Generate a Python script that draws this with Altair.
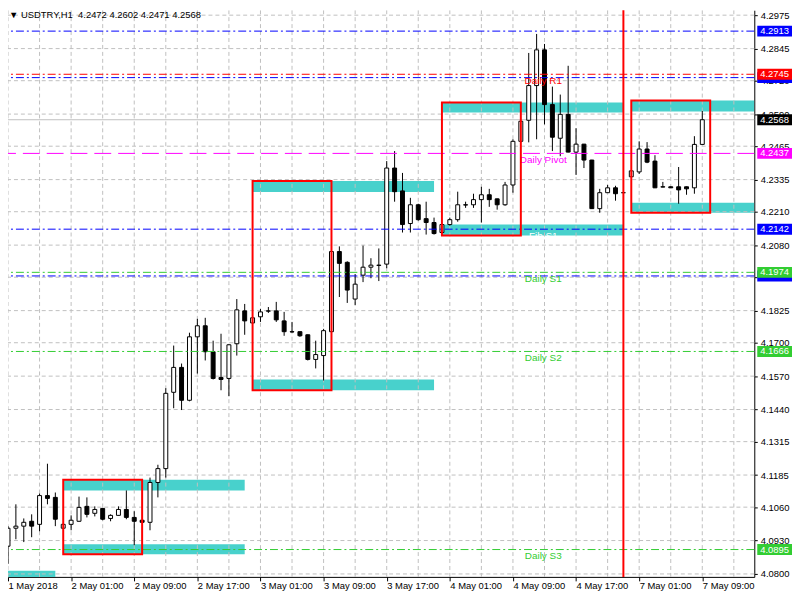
import altair as alt
import pandas as pd

# ---------------- data ----------------
bar_index = list(range(89))
opens = [4.0908, 4.0978, 4.0986, 4.1005, 4.0993, 4.1105, 4.1098, 4.0978, 4.0993, 4.1005,
         4.1063, 4.1036, 4.1055, 4.1016, 4.1028, 4.1051, 4.1020, 4.1009, 4.1001, 4.1156,
         4.1210, 4.1507, 4.1604, 4.1476, 4.1723, 4.1766, 4.1665, 4.1565, 4.1561, 4.1696,
         4.1824, 4.1777, 4.1801, 4.1824, 4.1824, 4.1785, 4.1743, 4.1743, 4.1731, 4.1635,
         4.1650, 4.1743, 4.2055, 4.2013, 4.1870, 4.1963, 4.1994, 4.2002, 4.2006, 4.2380,
         4.2291, 4.2164, 4.2237, 4.2183, 4.2168, 4.2129, 4.2160, 4.2179, 4.2237, 4.2237,
         4.2257, 4.2276, 4.2260, 4.2237, 4.2314, 4.2484, 4.2566, 4.2701, 4.2840, 4.2627,
         4.2496, 4.2589, 4.2442, 4.2473, 4.2411, 4.2222, 4.2284, 4.2303, 4.2284, 4.2346,
         4.2365, 4.2454, 4.2407, 4.2307, 4.2307, 4.2307, 4.2307, 4.2303, 4.2472]
highs = [4.0986, 4.1071, 4.1016, 4.1032, 4.1113, 4.1229, 4.1117, 4.0997, 4.1028, 4.1101,
         4.1098, 4.1063, 4.1057, 4.1032, 4.1063, 4.1125, 4.1044, 4.1010, 4.1175, 4.1225,
         4.1523, 4.1689, 4.1619, 4.1739, 4.1793, 4.1797, 4.1708, 4.1735, 4.1694, 4.1870,
         4.1851, 4.1801, 4.1832, 4.1839, 4.1859, 4.1820, 4.1781, 4.1744, 4.1732, 4.1708,
         4.1754, 4.2063, 4.2075, 4.2017, 4.1967, 4.2078, 4.2029, 4.2067, 4.2407, 4.2446,
         4.2361, 4.2264, 4.2241, 4.2249, 4.2187, 4.2161, 4.2187, 4.2288, 4.2249, 4.2280,
         4.2307, 4.2299, 4.2261, 4.2326, 4.2492, 4.2563, 4.2828, 4.2902, 4.2863, 4.2697,
         4.2666, 4.2778, 4.2535, 4.2474, 4.2412, 4.2299, 4.2314, 4.2311, 4.2286, 4.2370,
         4.2484, 4.2481, 4.2430, 4.2326, 4.2308, 4.2384, 4.2308, 4.2504, 4.2602]
lows = [4.0839, 4.0935, 4.0924, 4.0943, 4.0966, 4.1071, 4.0986, 4.0974, 4.0970, 4.1003,
        4.1020, 4.1024, 4.1009, 4.1005, 4.1027, 4.1013, 4.0912, 4.1000, 4.0970, 4.1098,
        4.1175, 4.1445, 4.1438, 4.1472, 4.1580, 4.1631, 4.1557, 4.1515, 4.1492, 4.1650,
        4.1731, 4.1775, 4.1781, 4.1816, 4.1781, 4.1727, 4.1739, 4.1723, 4.1631, 4.1600,
        4.1553, 4.1739, 4.1878, 4.1855, 4.1847, 4.1936, 4.1951, 4.1940, 4.1990, 4.2249,
        4.2129, 4.2129, 4.2175, 4.2121, 4.2121, 4.2128, 4.2156, 4.2171, 4.2225, 4.2225,
        4.2168, 4.2229, 4.2218, 4.2233, 4.2284, 4.2480, 4.2480, 4.2492, 4.2550, 4.2446,
        4.2426, 4.2441, 4.2353, 4.2380, 4.2221, 4.2206, 4.2283, 4.2253, 4.2283, 4.2345,
        4.2357, 4.2399, 4.2302, 4.2305, 4.2302, 4.2241, 4.2276, 4.2280, 4.2471]
closes = [4.0978, 4.0986, 4.1001, 4.0986, 4.1105, 4.1094, 4.1013, 4.0993, 4.1009, 4.1059,
          4.1032, 4.1051, 4.1013, 4.1028, 4.1051, 4.1020, 4.1005, 4.1001, 4.1156, 4.1210,
          4.1503, 4.1604, 4.1476, 4.1723, 4.1766, 4.1665, 4.1561, 4.1557, 4.1692, 4.1828,
          4.1785, 4.1797, 4.1820, 4.1823, 4.1789, 4.1743, 4.1742, 4.1727, 4.1635, 4.1654,
          4.1747, 4.2055, 4.2009, 4.1905, 4.1928, 4.1994, 4.2002, 4.2001, 4.2380, 4.2288,
          4.2160, 4.2237, 4.2179, 4.2168, 4.2125, 4.2160, 4.2179, 4.2237, 4.2236, 4.2257,
          4.2276, 4.2257, 4.2237, 4.2314, 4.2484, 4.2562, 4.2701, 4.2840, 4.2627, 4.2500,
          4.2589, 4.2442, 4.2473, 4.2411, 4.2222, 4.2284, 4.2303, 4.2280, 4.2284, 4.2369,
          4.2454, 4.2403, 4.2303, 4.2306, 4.2303, 4.2295, 4.2299, 4.2472, 4.2568]

symbol = "USDTRY,H1"

x_tick_bars = [0, 8, 16, 24, 32, 40, 48, 56, 64, 72, 80, 88]
x_tick_labels = ["1 May 2018", "2 May 01:00", "2 May 09:00", "2 May 17:00", "3 May 01:00",
                 "3 May 09:00", "3 May 17:00", "4 May 01:00", "4 May 09:00", "4 May 17:00",
                 "7 May 01:00", "7 May 09:00"]
y_ticks = [4.2975, 4.2845, 4.2720, 4.2590, 4.2465, 4.2335, 4.2210, 4.2080, 4.1955,
           4.1825, 4.1700, 4.1570, 4.1440, 4.1315, 4.1185, 4.1060, 4.0930, 4.0800]
vgrid_bars = list(range(0, 96, 4))

# supply / demand zones (cyan)
zone_start = [-1, 7, 7, 31, 31, 55, 55, 79, 79]
zone_end = [6, 30, 30, 54, 54, 78, 78, 94.59, 94.59]
zone_low = [4.0780, 4.1125, 4.0877, 4.2287, 4.1515, 4.2596, 4.2117, 4.2600, 4.2206]
zone_high = [4.0812, 4.1167, 4.0916, 4.2330, 4.1557, 4.2635, 4.2160, 4.2643, 4.2245]

# red boxes
box_start = [7, 31, 55, 79]
box_end = [17, 41, 65, 89]
box_low = [4.0877, 4.1515, 4.2117, 4.2206]
box_high = [4.1167, 4.2330, 4.2635, 4.2643]

# day separator (red vertical line)
separator_bars = [78]

# pivot levels
level_names = ["Fib R2", "Fib R1", "Daily R1", "Daily Pivot", "Fib S1", "Fib S2",
               "Daily S1", "Daily S2", "Daily S3"]
level_prices = [4.2913, 4.2732, 4.2745, 4.2437, 4.2142, 4.1960, 4.1974, 4.1666, 4.0895]
level_colors = ["#0000FF", "#0000FF", "#FF0000", "#FF00FF", "#0000FF", "#0000FF",
                "#32CD32", "#32CD32", "#32CD32"]
level_dashed = [False, False, False, True, False, False, False, False, False]
level_text_shown = [False, False, True, True, True, False, True, True, True]
level_text_colors = ["white", "white", "#FF0000", "#FF00FF", "white", "white",
                     "#32CD32", "#32CD32", "#32CD32"]

# price tags on the right axis (drawn in this order)
tag_prices = [4.2913, 4.2732, 4.2745, 4.2568, 4.2437, 4.2142, 4.1960, 4.1974, 4.1666, 4.0895]
tag_colors = ["#0000FF", "#0000FF", "#FF0000", "#000000", "#FF00FF", "#0000FF", "#0000FF",
              "#32CD32", "#32CD32", "#32CD32"]
tag_text_visible = [True, False, True, True, True, True, False, True, True, True]

# ---------------- chart ----------------
FONT = "Liberation Sans"
CYAN = "#48D1CC"
GRID = "#C0C0C0"
W, H = 752, 571

xs = alt.Scale(domain=[0, 94.59], nice=False, zero=False)
ys = alt.Scale(domain=[4.07885, 4.29943], nice=False, zero=False)

label_expr = "[" + ",".join("'%s'" % t for t in x_tick_labels) + "][round(datum.value / 8)]"
x_axis = alt.Axis(values=x_tick_bars, labelExpr=label_expr, title=None, grid=False,
                  labelAlign="left", labelPadding=0, tickSize=4, labelFontSize=9.5,
                  labelFont=FONT, labelColor="black", tickColor="black", domainColor="black",
                  labelOverlap=False, labelFlush=False)
y_axis = alt.Axis(orient="right", values=y_ticks, format=".4f", title=None, grid=False,
                  tickSize=3, labelPadding=3, labelFontSize=9.5, labelFont=FONT,
                  labelColor="black", tickColor="black", domainColor="black",
                  labelOverlap=False, labelFlush=False)

candles = pd.DataFrame({"i": bar_index, "open": opens, "high": highs,
                        "low": lows, "close": closes})
zones = pd.DataFrame({"x0": zone_start, "x1": zone_end, "lo": zone_low, "hi": zone_high})
boxes = pd.DataFrame({"x0": box_start, "x1": box_end, "lo": box_low, "hi": box_high})
levels = pd.DataFrame({"name": level_names, "price": level_prices, "color": level_colors,
                       "dashed": level_dashed, "shown": level_text_shown,
                       "tcolor": level_text_colors})

layers = []

# cyan zones
layers.append(alt.Chart(zones).mark_rect(color=CYAN, clip=True).encode(
    x=alt.X("x0:Q", scale=xs, axis=x_axis), x2="x1:Q",
    y=alt.Y("lo:Q", scale=ys, axis=y_axis), y2="hi:Q"))

# grid
layers.append(alt.Chart(pd.DataFrame({"p": y_ticks})).mark_rule(
    color=GRID, strokeDash=[4, 3], strokeWidth=1).encode(
    y=alt.Y("p:Q", scale=ys, axis=y_axis)))
layers.append(alt.Chart(pd.DataFrame({"b": vgrid_bars})).mark_rule(
    color=GRID, strokeDash=[4, 3], strokeWidth=1, clip=True).encode(
    x=alt.X("b:Q", scale=xs, axis=x_axis)))

# bid line
layers.append(alt.Chart(pd.DataFrame({"p": [closes[-1]]})).mark_rule(
    color=GRID, strokeWidth=1).encode(y=alt.Y("p:Q", scale=ys, axis=y_axis)))

# candles
layers.append(alt.Chart(candles).mark_rule(color="black", strokeWidth=1, clip=True).encode(
    x=alt.X("i:Q", scale=xs, axis=x_axis),
    y=alt.Y("low:Q", scale=ys, axis=y_axis), y2="high:Q"))
layers.append(alt.Chart(candles).transform_calculate(
    x0="datum.i - 0.25", x1="datum.i + 0.25",
    fillc="datum.close >= datum.open ? 'white' : 'black'").mark_rect(
    stroke="black", strokeWidth=1, clip=True).encode(
    x=alt.X("x0:Q", scale=xs, axis=x_axis), x2="x1:Q",
    y=alt.Y("open:Q", scale=ys, axis=y_axis), y2="close:Q",
    fill=alt.Fill("fillc:N", scale=None)))

# pivot level lines
layers.append(alt.Chart(levels).transform_filter("!datum.dashed").mark_rule(
    strokeWidth=1, strokeDash=[8, 3, 2, 3]).encode(
    y=alt.Y("price:Q", scale=ys, axis=y_axis),
    color=alt.Color("color:N", scale=None)))
layers.append(alt.Chart(levels).transform_filter("datum.dashed").mark_rule(
    strokeWidth=1, strokeDash=[17, 7]).encode(
    y=alt.Y("price:Q", scale=ys, axis=y_axis),
    color=alt.Color("color:N", scale=None)))

# level names
layers.append(alt.Chart(levels).transform_filter("datum.shown").mark_text(
    font=FONT, fontSize=10, align="center", baseline="middle", dy=7).encode(
    x=alt.datum(67.84),
    y=alt.Y("price:Q", scale=ys, axis=y_axis),
    text="name:N",
    color=alt.Color("tcolor:N", scale=None)))

# red boxes
layers.append(alt.Chart(boxes).mark_rect(
    fillOpacity=0, stroke="#FF0000", strokeWidth=2, clip=True).encode(
    x=alt.X("x0:Q", scale=xs, axis=x_axis), x2="x1:Q",
    y=alt.Y("lo:Q", scale=ys, axis=y_axis), y2="hi:Q"))

# separator
layers.append(alt.Chart(pd.DataFrame({"b": separator_bars})).mark_rule(
    color="#FF0000", strokeWidth=2).encode(x=alt.X("b:Q", scale=xs, axis=x_axis)))

# price tags on the axis
for p, c, vis in zip(tag_prices, tag_colors, tag_text_visible):
    d = pd.DataFrame({"p": [p], "t": ["%.4f" % p]})
    layers.append(alt.Chart(d).mark_rect(color=c, yOffset=-5.5, y2Offset=5.5).encode(
        x=alt.value(755), x2=alt.value(790),
        y=alt.Y("p:Q", scale=ys, axis=y_axis), y2="p:Q"))
    if vis:
        layers.append(alt.Chart(d).mark_text(
            color="white", align="left", baseline="middle", font=FONT, fontSize=9.5).encode(
            x=alt.value(758), y=alt.Y("p:Q", scale=ys, axis=y_axis), text="t:N"))

# header text
header = "\u25bc " + symbol + "\u00a0\u00a0" + " ".join(
    "%.4f" % v for v in (opens[-1], highs[-1], lows[-1], closes[-1]))
layers.append(alt.Chart(pd.DataFrame({"t": [header]})).mark_text(
    font=FONT, fontSize=9.5, align="left", baseline="middle", color="black").encode(
    x=alt.value(1), y=alt.value(5), text="t:N"))

chart = alt.layer(*layers).properties(
    width=W, height=H,
    autosize=alt.AutoSizeParams(type="none"),
    padding={"left": 0, "top": 0, "right": 38, "bottom": 16},
    background="white",
).configure_view(stroke="transparent")

chart.save("out.html", embed_options={"renderer": "svg", "actions": False})
